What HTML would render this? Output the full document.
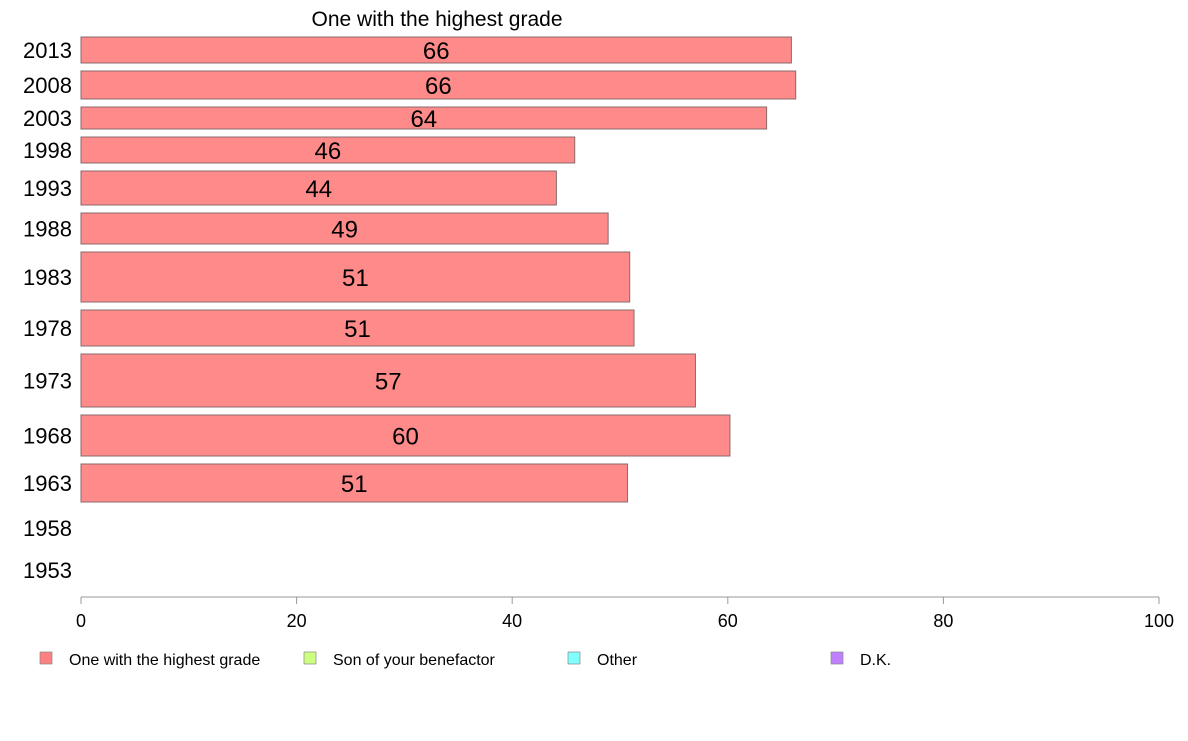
<!DOCTYPE html>
<html><head><meta charset="utf-8"><style>
body{margin:0;background:#fff;font-family:"Liberation Sans",sans-serif}
</style></head><body>
<svg id="chart" width="1188" height="736" xmlns="http://www.w3.org/2000/svg" font-family="Liberation Sans, sans-serif">
<text x="437" y="26" font-size="21" text-anchor="middle">One with the highest grade</text>
<g id="bars"></g>
<g id="axis"></g>
<g id="legend"></g>
</svg>
<script>
const categories=["2013","2008","2003","1998","1993","1988","1983","1978","1973","1968","1963","1958","1953"];
const values=[65.9,66.3,63.6,45.8,44.1,48.9,50.9,51.3,57.0,60.2,50.7,null,null];
const labels=["66","66","64","46","44","49","51","51","57","60","51","",""];
const sampleWeights=[26,28,22,26,34,31,50,36,53,41,38,36,32];
const xTicks=[0,20,40,60,80,100];
const legendNames=["One with the highest grade","Son of your benefactor","Other","D.K."];
const legendColors=["#ff8080","#ccff80","#80ffff","#bf80ff"];
const NS="http://www.w3.org/2000/svg";
const x0=81,x1=1159,top0=37,gap=8;
const xs=v=>x0+(v/100)*(x1-x0);
function mk(t,a,p){const e=document.createElementNS(NS,t);for(const k in a)e.setAttribute(k,a[k]);p.appendChild(e);return e;}
const gb=document.getElementById('bars');
let y=top0;
categories.forEach((c,i)=>{
  const h=sampleWeights[i], cy=y+h/2;
  const t=mk('text',{x:72,y:cy+8,'font-size':22,'text-anchor':'end'},gb);
  
  
  t.textContent=c;
  if(values[i]!=null){
    const r=mk('rect',{x:x0,y:y,width:xs(values[i])-x0,height:h,fill:'#ff8a8a',stroke:'#8a6a6a','stroke-width':1},gb);
    
    
    const l=mk('text',{x:(x0+xs(values[i]))/2,y:cy+9,'font-size':24,'text-anchor':'middle'},gb);
    
    
    l.textContent=labels[i];
  }
  y+=h+gap;
});
const ga=document.getElementById('axis');
const ay=597;
const al=mk('line',{x1:x0,x2:x1,y1:ay,y2:ay,stroke:'#999','stroke-width':1},ga);


xTicks.forEach(v=>{
  const tk=mk('line',{x1:xs(v),x2:xs(v),y1:ay,y2:ay+7,stroke:'#999'},ga);
  
  
  const tl=mk('text',{x:xs(v),y:627,'font-size':18,'text-anchor':'middle'},ga);
  
  
  tl.textContent=v;
});
const gl=document.getElementById('legend');
const lx=[40,304,568,831];
legendNames.forEach((n,i)=>{
  const s=mk('rect',{x:lx[i],y:652,width:12,height:12,fill:legendColors[i],stroke:'#888','stroke-width':0.7},gl);
  
  
  const t=mk('text',{x:lx[i]+29,y:665,'font-size':16},gl);
  
  
  t.textContent=n;
});
</script>
</body></html>
